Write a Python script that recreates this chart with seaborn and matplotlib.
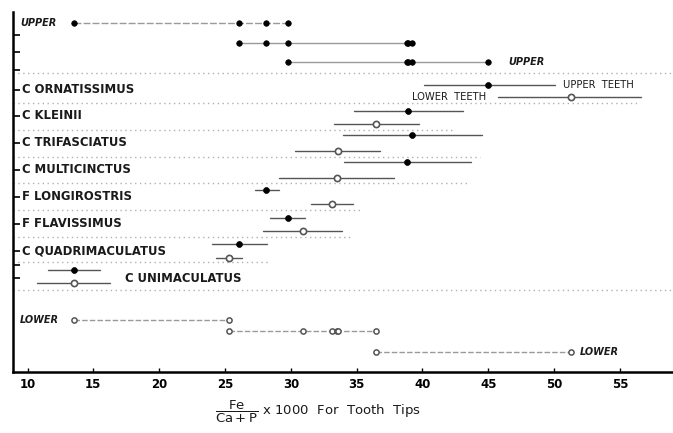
import matplotlib
matplotlib.use("Agg")
import matplotlib.pyplot as plt
import seaborn as sns
import pandas as pd
import numpy as np

# ---------------- data ----------------
species = ["C ORNATISSIMUS", "C KLEINII", "C TRIFASCIATUS", "C MULTICINCTUS",
           "F LONGIROSTRIS", "F FLAVISSIMUS", "C QUADRIMACULATUS", "C UNIMACULATUS"]
upper_mean = [45.0, 38.9, 39.2, 38.85, 28.1, 29.75, 26.1, 13.5]
upper_low = [40.1, 34.8, 34.0, 34.05, 27.3, 28.4, 24.0, 11.55]
upper_high = [50.1, 43.1, 44.5, 43.7, 29.1, 31.1, 28.2, 15.5]
lower_mean = [51.3, 36.5, 33.6, 33.5, 33.1, 30.9, 25.3, 13.5]
lower_low = [45.7, 33.3, 30.3, 29.1, 31.5, 27.9, 24.3, 10.7]
lower_high = [56.6, 39.7, 36.8, 37.8, 34.7, 33.9, 26.3, 16.25]

# groupings (indices into species) of means not significantly different
upper_groups = [[7, 6, 4, 5], [6, 4, 5, 3, 1, 2], [5, 3, 1, 2, 0]]
lower_groups = [[7, 6], [6, 5, 4, 3, 2, 1], [1, 0]]

x_ticks = [10, 15, 20, 25, 30, 35, 40, 45, 50, 55]

# ---------------- layout (pixel rows, y axis in pixels) ----------------
W, H = 673, 433
ax_left_px, ax_right_px, ax_top_px, ax_bot_px = 13, 673, 12, 372
px_per_unit = (620 - 27.5) / 45.0
def px2x(px):
    return 10 + (px - 27.5) / px_per_unit

upper_rows = [85, 111, 135, 162, 190, 218, 244, 270]
lower_rows = [97, 124, 151, 178, 204, 231, 258, 283]
label_rows = [90, 116, 143, 170, 197, 224, 251, 279]
upper_group_rows = [23, 43, 62]
lower_group_rows = [320, 331, 352]
sep_rows = [73, 103, 130, 157, 183, 210, 237, 262, 290]
sep_ends = [673, 640, 455, 480, 470, 360, 350, 270, 673]

df = pd.DataFrame({
    "species": species * 2,
    "tooth": ["upper"] * 8 + ["lower"] * 8,
    "mean": upper_mean + lower_mean,
    "low": upper_low + lower_low,
    "high": upper_high + lower_high,
    "ypos": upper_rows + lower_rows,
})

sns.set_theme(style="ticks")
plt.rcParams["font.family"] = ["DejaVu Sans"]

fig = plt.figure(figsize=(W / 100, H / 100), dpi=100)
ax = fig.add_axes([ax_left_px / W, 1 - ax_bot_px / H,
                   (ax_right_px - ax_left_px) / W, (ax_bot_px - ax_top_px) / H])
ax.set_xlim(px2x(ax_left_px), px2x(ax_right_px))
ax.set_ylim(ax_bot_px, ax_top_px)

# dotted separators
for yy, xe in zip(sep_rows, sep_ends):
    ax.plot([px2x(ax_left_px), px2x(xe)], [yy, yy], ls=(0, (1, 2.5)),
            color="#b0b0b0", lw=1.0, zorder=1)

# range bars
for _, r in df.iterrows():
    ax.plot([r["low"], r["high"]], [r["ypos"], r["ypos"]],
            color="#555555", lw=1.0, zorder=2)

# grouping lines
for gi, (grp, yy) in enumerate(zip(upper_groups, upper_group_rows)):
    vals = [upper_mean[i] for i in grp]
    ax.plot([min(vals), max(vals)], [yy, yy], color="#9a9a9a", lw=1.0,
            ls=(0, (5, 1.5)) if gi == 0 else "-", zorder=2)
    sns.scatterplot(x=vals, y=[yy] * len(vals), color="black", s=16,
                    edgecolor="black", linewidth=0.5, ax=ax, zorder=3, legend=False)
for grp, yy in zip(lower_groups, lower_group_rows):
    vals = [lower_mean[i] for i in grp]
    ax.plot([min(vals), max(vals)], [yy, yy], color="#9a9a9a", lw=1.0,
            ls=(0, (4, 1.5)), zorder=2)
    sns.scatterplot(x=vals, y=[yy] * len(vals), color="white", s=14,
                    edgecolor="#555555", linewidth=1.1, ax=ax, zorder=3, legend=False)

# means
up = df[df["tooth"] == "upper"]
lo = df[df["tooth"] == "lower"]
sns.scatterplot(data=up, x="mean", y="ypos", color="black", s=18,
                edgecolor="black", linewidth=0.5, ax=ax, zorder=4, legend=False)
sns.scatterplot(data=lo, x="mean", y="ypos", color="white", s=20,
                edgecolor="#555555", linewidth=1.2, ax=ax, zorder=4, legend=False)

# species labels
for i, (name, yy) in enumerate(zip(species, label_rows)):
    xpx = 125 if name == "C UNIMACULATUS" else 22
    ax.text(px2x(xpx), yy, name, fontsize=8.4, fontweight="bold",
            color="#1a1a1a", ha="left", va="center", zorder=5)

ax.text(px2x(412), 97, "LOWER  TEETH", fontsize=7.2, ha="left", va="center", color="#1a1a1a")
ax.text(px2x(563), 85, "UPPER  TEETH", fontsize=7.2, ha="left", va="center", color="#1a1a1a")
ax.text(px2x(20), 23, "UPPER", fontsize=7, style="italic", fontweight="bold",
        ha="left", va="center", color="#1a1a1a")
ax.text(px2x(508), 62, "UPPER", fontsize=7, style="italic", fontweight="bold",
        ha="left", va="center", color="#1a1a1a")
ax.text(px2x(20), 320, "LOWER", fontsize=7, style="italic", fontweight="bold",
        ha="left", va="center", color="#1a1a1a")
ax.text(px2x(580), 352, "LOWER", fontsize=7, style="italic", fontweight="bold",
        ha="left", va="center", color="#1a1a1a")

# axes styling
for s in ["top", "right"]:
    ax.spines[s].set_visible(False)
ax.spines["left"].set_linewidth(1.8)
ax.spines["bottom"].set_linewidth(1.8)
ax.spines["left"].set_color("black")
ax.spines["bottom"].set_color("black")
ax.set_xticks(x_ticks)
ax.set_xticklabels([str(t) for t in x_ticks], fontsize=8.5, fontweight="bold")
ax.tick_params(axis="x", direction="in", length=3, width=1, pad=4, colors="black")
ax.set_yticks([35, 52, 70] + label_rows[:7] + [265, 278])
ax.set_yticklabels([])
ax.tick_params(axis="y", direction="in", length=5, width=1.2, colors="black")
ax.set_xlabel("")
ax.set_ylabel("")

fig.text(318 / W, 1 - 412 / H,
         r"$\dfrac{\mathrm{Fe}}{\mathrm{Ca+P}}$ x 1000  For  Tooth  Tips",
         fontsize=9.5, ha="center", va="center", color="#1a1a1a")

fig.savefig("out.png", dpi=100, facecolor="white")
